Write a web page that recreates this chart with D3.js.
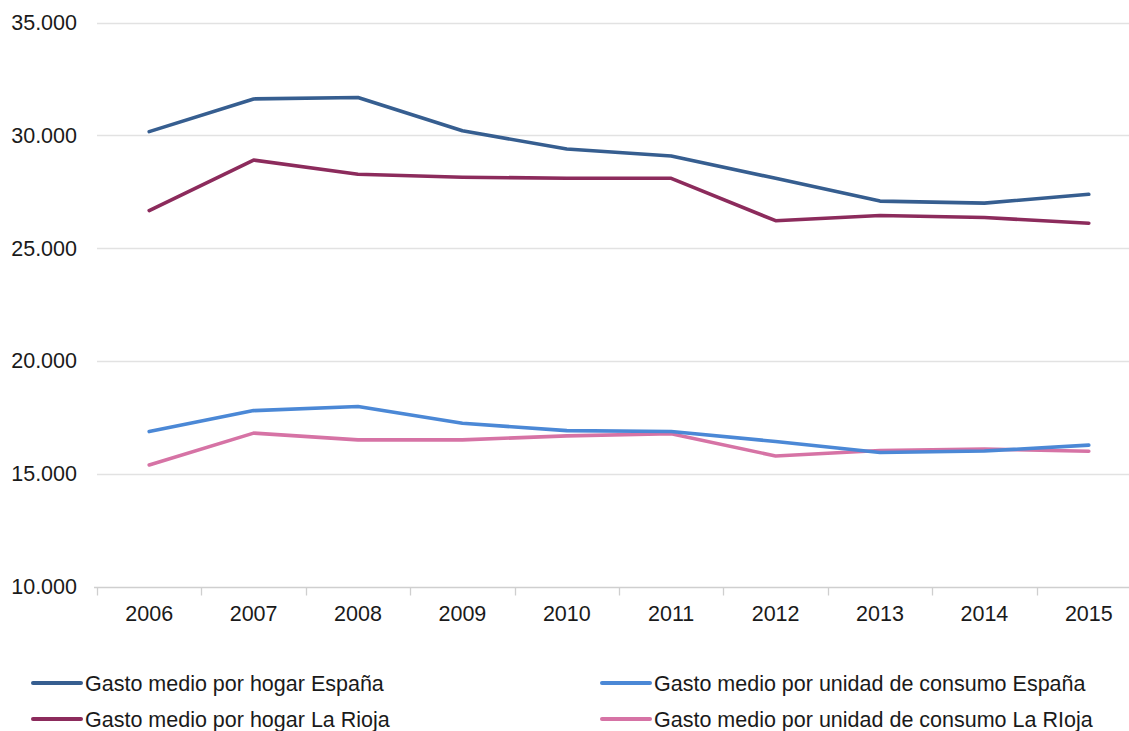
<!DOCTYPE html>
<html>
<head>
<meta charset="utf-8">
<script src="https://cdn.jsdelivr.net/npm/d3@7"></script>
<style>
  body { margin: 0; background: #fff; }
  svg { display: block; overflow: hidden; }
  text { font-family: "Liberation Sans", Arial, Helvetica, sans-serif; fill: #1a1a1a; }
</style>
</head>
<body>
<script>
//chart values
var years = ["2006", "2007", "2008", "2009", "2010", "2011", "2012", "2013", "2014", "2015"];
var hogarEspana = [30170, 31620, 31680, 30210, 29400, 29090, 28100, 27090, 27000, 27390];
var hogarRioja = [26670, 28910, 28280, 28150, 28100, 28100, 26220, 26450, 26360, 26110];
var unidadEspana = [16870, 17800, 17980, 17240, 16910, 16870, 16430, 15940, 16010, 16270];
var unidadRioja = [15390, 16800, 16500, 16500, 16680, 16770, 15790, 16030, 16090, 16000];
var yTicks = [10000, 15000, 20000, 25000, 30000, 35000];

var seriesNames = [
    "Gasto medio por hogar España",
    "Gasto medio por hogar La Rioja",
    "Gasto medio por unidad de consumo España",
    "Gasto medio por unidad de consumo La RIoja"
];
var seriesColors = ["#365e90", "#8c2b5c", "#4b88d6", "#d673a5"];
var seriesValues = [hogarEspana, hogarRioja, unidadEspana, unidadRioja];

//svg size
var w = 1129, h = 731;
var fontSize = "21.5px";

var svg = d3.select("body")
    .append("svg")
    .attr("width", w)
    .attr("height", h);

//band scale for the years, plot runs slightly past the right edge
var x = d3.scaleBand()
    .domain(years)
    .range([97, 1141]);

var y = d3.scaleLinear()
    .domain([10000, 35000])
    .range([586.5, 22.7]);

//spanish number format 35.000
var esFormat = d3.formatLocale({
    decimal: ",",
    thousands: ".",
    grouping: [3],
    currency: ["", " €"]
}).format(",");

//horizontal gridlines
svg.selectAll(".grid")
    .data(yTicks.slice(1))
    .enter()
    .append("line")
    .attr("class", "grid")
    .attr("x1", 97)
    .attr("x2", w)
    .attr("y1", function(d){ return Math.round(y(d)) + 0.5; })
    .attr("y2", function(d){ return Math.round(y(d)) + 0.5; })
    .style("stroke", "#e2e2e2")
    .style("stroke-width", 1.3);

//y axis labels
var yAxis = d3.axisLeft(y)
    .tickValues(yTicks)
    .tickFormat(esFormat)
    .tickSize(0)
    .tickPadding(0);

var yAxisG = svg.append("g")
    .attr("class", "yaxis")
    .attr("transform", "translate(77,0)")
    .call(yAxis);
yAxisG.select(".domain").remove();
yAxisG.selectAll("text")
    .style("font-size", fontSize)
    .style("font-family", "'Liberation Sans', Arial, sans-serif")
    .style("fill", "#1a1a1a");

//x axis baseline
var base = Math.round(y(10000)) + 0.5;
svg.append("line")
    .attr("x1", 94)
    .attr("x2", w)
    .attr("y1", base)
    .attr("y2", base)
    .style("stroke", "#cfcfcf")
    .style("stroke-width", 1.3);

//tick marks at the band edges
svg.selectAll(".xtick")
    .data(years)
    .enter()
    .append("line")
    .attr("class", "xtick")
    .attr("x1", function(d){ return Math.round(x(d)) + 0.5; })
    .attr("x2", function(d){ return Math.round(x(d)) + 0.5; })
    .attr("y1", base)
    .attr("y2", base + 8)
    .style("stroke", "#cfcfcf")
    .style("stroke-width", 1.3);

//year labels
svg.selectAll(".xlabel")
    .data(years)
    .enter()
    .append("text")
    .attr("class", "xlabel")
    .attr("text-anchor", "middle")
    .attr("x", function(d){ return x(d) + x.bandwidth() / 2; })
    .attr("y", 621)
    .style("font-size", fontSize)
    .text(function(d){ return d; });

//line generator
var line = d3.line()
    .x(function(d, i){ return x(years[i]) + x.bandwidth() / 2; })
    .y(function(d){ return y(d); });

//draw the four series, back to front
var order = [3, 2, 1, 0];
svg.selectAll(".series")
    .data(order)
    .enter()
    .append("path")
    .attr("class", "series")
    .attr("d", function(k){ return line(seriesValues[k]); })
    .style("fill", "none")
    .style("stroke", function(k){ return seriesColors[k]; })
    .style("stroke-width", 3.6)
    .style("stroke-linejoin", "round")
    .style("stroke-linecap", "round");

//legend, two columns
var legendPos = [
    {lx: 33, ly: 683},
    {lx: 33, ly: 719},
    {lx: 602, ly: 683},
    {lx: 602, ly: 719}
];

var legend = svg.selectAll(".legend")
    .data(seriesNames)
    .enter()
    .append("g")
    .attr("class", "legend")
    .attr("transform", function(d, i){
        return "translate(" + legendPos[i].lx + "," + legendPos[i].ly + ")";
    });

legend.append("line")
    .attr("x1", 0)
    .attr("x2", 48)
    .attr("y1", 0)
    .attr("y2", 0)
    .style("stroke", function(d, i){ return seriesColors[i]; })
    .style("stroke-width", 4)
    .style("stroke-linecap", "round");

legend.append("text")
    .attr("x", 52)
    .attr("y", 7.5)
    .style("font-size", fontSize)
    .text(function(d){ return d; });
</script>
</body>
</html>
